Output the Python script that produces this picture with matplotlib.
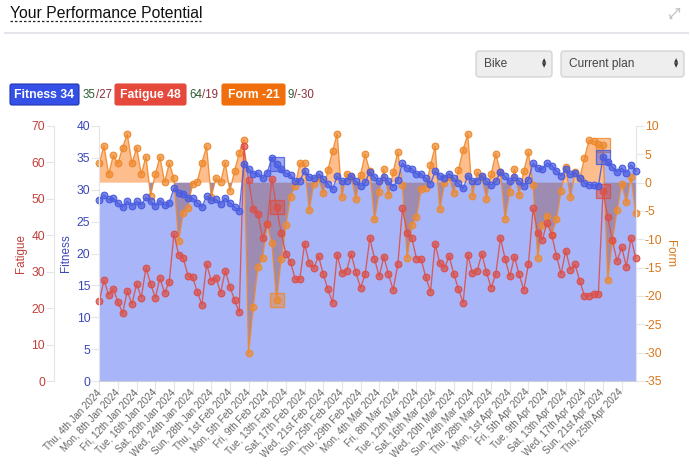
"""Performance potential chart: fitness, fatigue and form over time."""

import numpy as np
import matplotlib
matplotlib.use('Agg')
import matplotlib.pyplot as plt
from matplotlib.colors import to_rgba
from matplotlib.patches import FancyBboxPatch

plt.rcParams['font.family'] = ['Liberation Sans', 'DejaVu Sans']
plt.rcParams['axes.unicode_minus'] = False

fitness = [
    28.4, 29.2, 28.5, 28.7, 27.9, 27.3, 28.2, 27.5, 28.2, 27.6, 28.8, 28.2, 27.5, 28.3, 27.6, 28.0,
    30.2, 29.5, 29.4, 28.7, 28.7, 28.0, 27.3, 29.0, 28.4, 28.5, 27.8, 28.7, 28.0, 27.3, 26.7,
    34.1, 33.3, 32.5, 32.6, 31.8, 32.7, 35.0, 34.1, 33.3, 32.6, 32.3, 31.4, 31.4, 32.9, 32.0, 31.8,
    32.5, 31.7, 30.9, 30.1, 32.1,
    31.4, 31.4, 32.2, 31.4, 30.6, 31.2, 32.8, 32.0, 31.3, 32.0, 31.3, 30.5, 31.5, 34.2, 33.4, 33.3,
    32.5, 32.5, 31.8, 30.9, 32.9, 32.2, 31.9, 32.5, 31.8, 31.0, 30.2, 32.2, 31.4, 31.4, 32.2, 31.4,
    30.7, 31.3, 32.8, 32.1, 31.3, 32.0, 31.4,
    30.6, 31.6, 34.2, 33.4, 33.2, 34.2, 33.8, 33.0, 32.2, 33.2, 32.4, 32.7, 31.8, 31.1, 30.8, 30.8,
    30.6, 35.2, 34.4, 33.6, 32.8, 33.4, 32.6, 33.9, 33.0,
]
fatigue = [
    21.9, 27.6, 23.7, 25.3, 21.7, 18.6, 24.7, 21.1, 26.7, 22.9, 31.1, 26.7, 22.9, 28.2, 24.2, 27.2,
    40.4, 34.7, 33.8, 28.9, 28.5, 24.5, 20.9, 32.1, 27.5, 28.4, 24.2, 30.2, 25.9, 22.2, 18.9,
    64.4, 55.2, 47.3, 45.8, 39.2, 43.1, 55.5, 47.7, 40.7, 34.9, 32.7, 28.0, 28.0, 37.7, 32.3, 31.0,
    34.3, 29.4, 25.2, 21.5, 34.6, 29.6, 30.2, 34.9, 29.9, 25.6, 29.3, 39.2, 33.6, 28.7, 34.1, 29.3,
    25.0, 32.0, 47.4, 40.7, 39.2, 33.6, 33.4, 28.5, 24.5, 37.6, 32.3, 31.0, 34.3, 29.4, 25.2, 21.5,
    34.6, 29.6, 30.2, 34.9, 29.9, 25.6, 29.3, 39.2, 33.6, 28.7, 34.1, 29.3, 25.0, 32.0, 47.4, 40.6,
    38.8, 43.5, 40.1, 34.4, 29.4, 35.8, 30.6, 32.0, 27.5, 23.4, 23.4, 23.9, 24.0, 52.2, 44.9, 38.6,
    32.9, 36.7, 31.4, 39.2, 33.8,
]
form = [
    3.5, 6.5, 1.5, 4.8, 3.4, 6.2, 8.6, 3.4, 6.2, 1.5, 4.6, -2.3, 1.5, 4.5, 0.1, 3.4, 0.8,
    -10.3, -5.3, -4.4, -0.2, 0.1, 3.5, 6.4, -2.6, 0.8, 0.1, 3.5, -1.5, 2.1, 5.2, 7.6,
    -30.0, -22.0, -14.9, -13.3, -7.3, -10.7, -20.7, -13.5, -7.5, -2.5, -0.6, 3.4, 3.4, -4.8, -0.2,
    0.8, -1.9, 2.2, 5.6, 8.6, -2.5, 1.6, 1.0, -2.8, 1.4, 5.0, 2.0, -6.5, -1.6, 2.4, -2.2, 1.9, 5.4,
    -0.5, -13.3, -7.4, -6.0, -1.2, -0.9, 3.1, 6.4, -4.7, -0.1, 1.0, -1.8, 2.3, 5.8, 8.6, -2.4, 1.8,
    1.0, -2.8, 1.5, 5.1, 1.9, -6.4, -1.6, 2.4, -2.2, 2.0, 5.4, -0.5, -13.3, -7.4, -5.8, -9.2, -6.4,
    -1.5, 2.7, -2.6, 1.8, 0.8, 4.3, 7.5, 7.4, 6.8, 6.6, -17.2, -10.3, -4.9, -0.2, -3.5, 1.0, -5.4,
]
highlights = [38, 108]

tick_labels = [
    'Thu, 4th Jan 2024', 'Mon, 8th Jan 2024', 'Fri, 12th Jan 2024', 'Tue, 16th Jan 2024',
    'Sat, 20th Jan 2024', 'Wed, 24th Jan 2024', 'Sun, 28th Jan 2024', 'Thu, 1st Feb 2024',
    'Mon, 5th Feb 2024', 'Fri, 9th Feb 2024', 'Tue, 13th Feb 2024', 'Sat, 17th Feb 2024',
    'Wed, 21st Feb 2024', 'Sun, 25th Feb 2024', 'Thu, 29th Feb 2024', 'Mon, 4th Mar 2024',
    'Fri, 8th Mar 2024', 'Tue, 12th Mar 2024', 'Sat, 16th Mar 2024', 'Wed, 20th Mar 2024',
    'Sun, 24th Mar 2024', 'Thu, 28th Mar 2024', 'Mon, 1st Apr 2024', 'Fri, 5th Apr 2024',
    'Tue, 9th Apr 2024', 'Sat, 13th Apr 2024', 'Wed, 17th Apr 2024', 'Sun, 21st Apr 2024',
    'Thu, 25th Apr 2024',
]

BLUE = '#4a5ce0'
RED = '#dc5048'
ORANGE = '#ee8a2e'
GRID = '#e3e5e8'
W, H = 690, 474

days = np.arange(len(fitness))
fitness = np.array(fitness)
fatigue = np.array(fatigue)
form = np.array(form)

fig = plt.figure(figsize=(W / 100, H / 100), dpi=100)
rect = [99.3 / W, 1 - 381 / H, (635.7 - 99.3) / W, (381 - 126) / H]


def new_axes(z):
    a = fig.add_axes(rect, zorder=z)
    a.patch.set_visible(False)
    a.set_xlim(0, days[-1])
    for s in a.spines.values():
        s.set_visible(False)
    a.set_xticks([])
    a.set_yticks([])
    return a


def draw_series(a, y, color):
    a.plot(days, y, color=color, lw=0.95, alpha=0.9, clip_on=False)
    a.plot(days, y, ls='none', marker='o', ms=4.8, mfc=to_rgba(color, 0.72), mec=color,
           mew=0.8, clip_on=False)
    for h in highlights:
        a.plot(days[h], y[h], ls='none', marker='s', ms=9.5, mfc=to_rgba(color, 0.5),
               mec=to_rgba(color, 0.85), mew=0.9, clip_on=False)


# fondo azul
ax_bg = new_axes(1)
ax_bg.set_ylim(0, 40)
ax_bg.fill_between(days, fitness, 0, color='#a8b5f8', lw=0)

# form
ax_form = new_axes(2)
ax_form.set_ylim(-35, 10)
ax_form.fill_between(days, form, 0, where=form >= 0, interpolate=True, color='#fdbd8c', lw=0)
ax_form.fill_between(days, form, 0, where=form <= 0, interpolate=True, color='#9e8bb2', lw=0)
draw_series(ax_form, form, ORANGE)
ax_form.yaxis.tick_right()
ax_form.yaxis.set_label_position('right')
ax_form.spines['right'].set_visible(True)
ax_form.spines['right'].set_color(GRID)
ax_form.set_yticks(np.arange(-35, 11, 5))
ax_form.tick_params(axis='y', colors='#d9761a', labelsize=8.7, length=5.5, width=0.8, pad=1)
ax_form.tick_params(axis='y', color=GRID)
ax_form.set_ylabel('Form', color='#d9761a', fontsize=8.4, rotation=270, labelpad=10)

# fatigue
ax_fat = new_axes(3)
ax_fat.set_ylim(0, 70)
draw_series(ax_fat, fatigue, RED)
ax_fat.spines['left'].set_visible(True)
ax_fat.spines['left'].set_position(('outward', 32.6))
ax_fat.spines['left'].set_color(GRID)
ax_fat.set_yticks(np.arange(0, 71, 10))
ax_fat.tick_params(axis='y', colors='#c0403a', labelsize=8.7, length=5.5, width=0.8, pad=1)
ax_fat.tick_params(axis='y', color=GRID)
ax_fat.set_ylabel('Fatigue', color='#c0403a', fontsize=8.4, labelpad=3.5)

# fitness y eje x
ax_fit = new_axes(4)
ax_fit.set_ylim(0, 40)
draw_series(ax_fit, fitness, BLUE)
ax_fit.spines['left'].set_visible(True)
ax_fit.spines['left'].set_color(GRID)
ax_fit.spines['bottom'].set_visible(True)
ax_fit.spines['bottom'].set_color('#ccd0dc')
ax_fit.set_yticks(np.arange(0, 41, 5))
ax_fit.tick_params(axis='y', colors='#3a46b8', labelsize=8.7, length=5.5, width=0.8, pad=1)
ax_fit.tick_params(axis='y', color=GRID)
ax_fit.set_ylabel('Fitness', color='#3a46b8', fontsize=8.4, labelpad=3)
ax_fit.set_xticks(days[::4])
ax_fit.set_xticklabels(tick_labels, rotation=47, ha='right', va='center', rotation_mode='anchor',
                       fontsize=7.1, color='#666666')
ax_fit.tick_params(axis='x', color=GRID, length=7, width=0.8, pad=0)

# cabecera y controles, en coordenadas de pixel
ui = fig.add_axes([0, 0, 1, 1], zorder=5)
ui.set_xlim(0, W)
ui.set_ylim(H, 0)
ui.axis('off')
ui.text(10, 13, 'Your Performance Potential', fontsize=11.3, color='#111111', va='center')
ui.plot([10, 201], [21, 21], color='#222222', lw=0.9, ls=(0, (2, 1.6)))
ui.plot([5, 688], [33, 33], color='#e4e5ea', lw=1.4)
ui.plot([670, 679], [18, 9], color='#c4c4c4', lw=0.9)
ui.plot([669.5, 672, 670.5], [15, 18.5, 18.5], color='#c4c4c4', lw=0.9)
ui.plot([676, 679.5, 679.5], [9, 8.5, 12], color='#c4c4c4', lw=0.9)


def select_box(x0, x1, label):
    ui.add_patch(FancyBboxPatch((x0 + 3, 54), x1 - x0 - 6, 20, boxstyle='round,pad=3',
                                fc='#eeeeee', ec='#cccccc', lw=0.8))
    ui.text(x0 + 8, 63.5, label, fontsize=8.6, color='#444444', va='center')
    ui.text(x1 - 8, 61, '\u25b2', fontsize=4, color='#333333', ha='center', va='center', family='DejaVu Sans')
    ui.text(x1 - 8, 66, '\u25bc', fontsize=4, color='#333333', ha='center', va='center', family='DejaVu Sans')


select_box(476, 552, 'Bike')
select_box(561, 684, 'Current plan')


def pill(x0, x1, label, fc, ec):
    ui.add_patch(FancyBboxPatch((x0 + 2, 86), x1 - x0 - 4, 17, boxstyle='round,pad=2',
                                fc=fc, ec=ec, lw=0.8))
    ui.text((x0 + x1) / 2, 94.7, label, fontsize=8.8, fontweight='bold', color='white',
            ha='center', va='center')


GREEN_TXT = '#2f5d34'
RED_TXT = '#8c2f39'
pill(10, 79, 'Fitness 34', '#3450e6', '#2236b0')
pill(115, 186, 'Fatigue 48', '#e4493c', '#e4493c')
pill(222, 285, 'Form -21', '#f06f0c', '#f06f0c')
for x, a, b in [(83, '35', '/27'), (189, '64', '/19'), (288, '9', '/-30')]:
    t = ui.text(x, 94.7, a, fontsize=8.3, color=GREEN_TXT, va='center')
    ui.annotate(b, xy=(1, 0.5), xycoords=t, va='center', fontsize=8.3, color=RED_TXT)

fig.savefig('out.png', dpi=100)
